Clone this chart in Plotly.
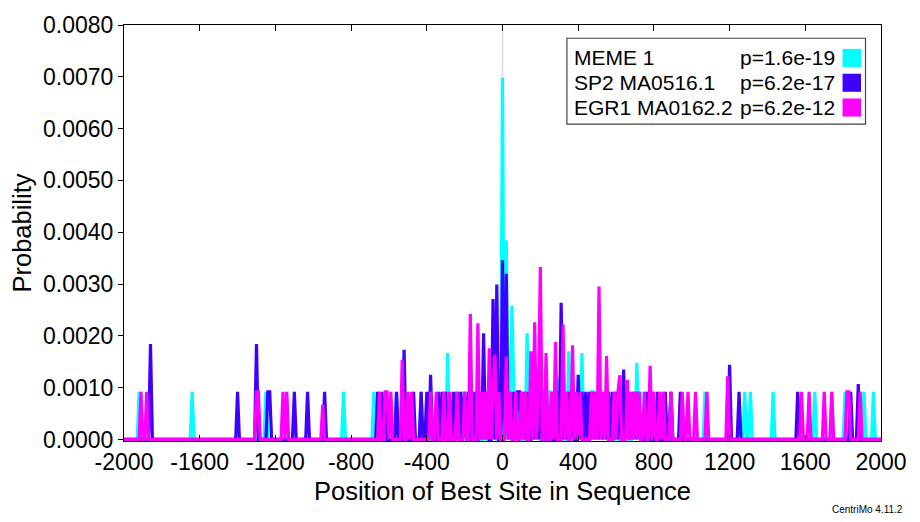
import numpy as np
import plotly.graph_objects as go

# ---- data -------------------------------------------------------------
# Position grid of the site distribution (bp relative to sequence centre)
bin_width = 10
x_min, x_max = -2000, 2000

# MEME 1: positions and probabilities of the non-zero bins
meme_pos = [-1920, -1635, -1250, -840, -675, -650, -560, -430, -380, -340,
            -310, -290, -250, -230, -200, -180, -150, -120, -90, -60, -40, 0,
            20, 35, 50, 65, 80, 100, 128, 150, 170, 190, 215, 240, 254, 275,
            300, 320, 347, 370, 395, 425, 453, 470, 480, 505, 520, 540, 560,
            600, 640, 660, 690, 711, 730, 760, 790, 840, 888, 1072, 1285, 1310,
            1433, 1653, 1742, 1810, 1913, 1960]
meme_prob = [0.00092, 0.00092, 0.00092, 0.00092, 0.00092, 0.00092, 0.00092,
             0.00092, 0.00092, 0.00092, 0.00092, 0.00167, 0.00092, 0.00092,
             0.00092, 0.00092, 0.00092, 0.00092, 0.00092, 0.00140, 0.00092,
             0.00698, 0.00384, 0.00092, 0.00258, 0.00092, 0.00092, 0.00092,
             0.00205, 0.00092, 0.00092, 0.00092, 0.00092, 0.00092, 0.00092,
             0.00092, 0.00120, 0.00092, 0.00170, 0.00092, 0.00092, 0.00167,
             0.00092, 0.00092, 0.00092, 0.00092, 0.00092, 0.00092, 0.00092,
             0.00092, 0.00092, 0.00092, 0.00092, 0.00148, 0.00092, 0.00092,
             0.00092, 0.00092, 0.00092, 0.00092, 0.00092, 0.00092, 0.00092,
             0.00092, 0.00092, 0.00092, 0.00092, 0.00092]

# SP2 MA0516.1
sp2_pos = [-1862, -1395, -1297, -1240, -1230, -1105, -1030, -937, -655, -640,
           -620, -555, -520, -470, -430, -405, -379, -345, -318, -300, -265,
           -255, -240, -221, -200, -180, -150, -125, -98, -75, -54, -27, -5,
           22, 40, 60, 75, 90, 110, 130, 160, 180, 200, 230, 265, 290, 312,
           330, 350, 370, 400, 420, 440, 460, 475, 500, 520, 540, 560, 580,
           600, 620, 638, 660, 680, 700, 720, 760, 790, 822, 860, 893, 940,
           1204, 1248, 1556, 1843, 1881]
sp2_prob = [0.00184, 0.00092, 0.00184, 0.00092, 0.00092, 0.00092, 0.00092,
            0.00092, 0.00092, 0.00092, 0.00092, 0.00092, 0.00173, 0.00092,
            0.00092, 0.00092, 0.00125, 0.00092, 0.00092, 0.00092, 0.00092,
            0.00092, 0.00092, 0.00092, 0.00092, 0.00092, 0.00092, 0.00092,
            0.00205, 0.00092, 0.00271, 0.00299, 0.00346, 0.00320, 0.00092,
            0.00092, 0.00092, 0.00092, 0.00092, 0.00092, 0.00092, 0.00092,
            0.00092, 0.00092, 0.00092, 0.00092, 0.00264, 0.00092, 0.00092,
            0.00092, 0.00125, 0.00092, 0.00092, 0.00092, 0.00092, 0.00092,
            0.00092, 0.00092, 0.00092, 0.00092, 0.00092, 0.00092, 0.00135,
            0.00092, 0.00092, 0.00092, 0.00092, 0.00092, 0.00092, 0.00092,
            0.00092, 0.00092, 0.00092, 0.00144, 0.00092, 0.00092, 0.00092,
            0.00107]

# EGR1 MA0162.2
egr1_pos = [-1909, -1880, -1305, -1290, -1155, -1140, -951, -648, -620, -608,
            -590, -530, -502, -476, -379, -353, -309, -280, -240, -200, -168,
            -133, -110, -90, -71, -50, -36, -15, 17, 40, 70, 96, 120, 149,
            172, 190, 202, 231, 255, 277, 316, 340, 372, 390, 410, 470, 490,
            506, 527, 553, 588, 606, 624, 664, 685, 700, 720, 747, 777, 800,
            826, 850, 893, 954, 984, 1020, 1078, 1192, 1582, 1620, 1697, 1745,
            1816, 1829, 1890]
egr1_prob = [0.00092, 0.00092, 0.00092, 0.00092, 0.00092, 0.00092, 0.00067,
             0.00092, 0.00092, 0.00092, 0.00092, 0.00154, 0.00092, 0.00092,
             0.00092, 0.00092, 0.00092, 0.00092, 0.00092, 0.00092, 0.00242,
             0.00224, 0.00092, 0.00092, 0.00176, 0.00092, 0.00164, 0.00092,
             0.00160, 0.00092, 0.00092, 0.00092, 0.00092, 0.00170, 0.00226,
             0.00092, 0.00333, 0.00167, 0.00092, 0.00188, 0.00222, 0.00092,
             0.00182, 0.00092, 0.00092, 0.00092, 0.00092, 0.00295, 0.00092,
             0.00161, 0.00092, 0.00092, 0.00124, 0.00115, 0.00092, 0.00092,
             0.00092, 0.00092, 0.00142, 0.00092, 0.00092, 0.00092, 0.00092,
             0.00092, 0.00092, 0.00092, 0.00092, 0.00122, 0.00092, 0.00092,
             0.00092, 0.00092, 0.00092, 0.00092, 0.00092]

series_names = ["MEME 1", "SP2 MA0516.1", "EGR1 MA0162.2"]
series_pvalues = ["p=1.6e-19", "p=6.2e-17", "p=6.2e-12"]
series_colors = ["#00FFFF", "#4000FF", "#FF00FF"]

x_tick_values = [-2000, -1600, -1200, -800, -400, 0, 400, 800, 1200, 1600, 2000]
x_tick_labels = ["-2000", "-1600", "-1200", "-800", "-400", "0", "400",
                 "800", "1200", "1600", "2000"]


def distribution(pos, prob):
    """Expand sparse (position, probability) pairs onto the full bin grid."""
    grid = np.arange(x_min, x_max + bin_width, bin_width)
    values = np.zeros(len(grid))
    for p, v in zip(pos, prob):
        idx = int(round((p - x_min) / bin_width))
        values[idx] = max(values[idx], v)
    return grid, values


# ---- figure -----------------------------------------------------------
W, H = 920, 522
L, R, T, B = 123.5, 38.5, 18, 80.5
plot_w = W - L - R
plot_h = H - T - B


def px_x(px):
    return (px - L) / plot_w


def px_y(py):
    return (H - B - py) / plot_h


fig = go.Figure()

# light grey marker of the sequence centre
fig.add_shape(type="line", xref="x", yref="paper", x0=0, x1=0, y0=0, y1=1,
              line=dict(color="#dcdcdc", width=1.5), layer="below")

for pos, prob, name, color in zip([meme_pos, sp2_pos, egr1_pos],
                                  [meme_prob, sp2_prob, egr1_prob],
                                  series_names, series_colors):
    gx, gy = distribution(pos, prob)
    fig.add_trace(go.Scatter(x=gx, y=gy, mode="lines", name=name,
                             line=dict(color=color, width=3.2),
                             showlegend=False))

# legend box with names, p-values and colour swatches
box_left, box_right, box_top, box_bottom = 567, 866, 31.5, 119
fig.add_shape(type="rect", xref="paper", yref="paper",
              x0=px_x(box_left), x1=px_x(box_right),
              y0=px_y(box_bottom), y1=px_y(box_top),
              line=dict(color="#444444", width=1.2), fillcolor="white")
row_centres = [51.5, 76.8, 102.0]
for name, pval, color, cy in zip(series_names, series_pvalues, series_colors,
                                 row_centres):
    fig.add_annotation(xref="paper", yref="paper", x=px_x(572), y=px_y(cy),
                       text=name, showarrow=False, xanchor="left",
                       yanchor="middle",
                       font=dict(family="Liberation Sans", size=21,
                                 color="black"))
    fig.add_annotation(xref="paper", yref="paper", x=px_x(837.5), y=px_y(cy),
                       text=pval, showarrow=False, xanchor="right",
                       yanchor="middle",
                       font=dict(family="Liberation Sans", size=21,
                                 color="black"))
    fig.add_shape(type="rect", xref="paper", yref="paper",
                  x0=px_x(843), x1=px_x(861.5),
                  y0=px_y(cy + 9.2), y1=px_y(cy - 9.2),
                  line=dict(width=0), fillcolor=color)

fig.add_annotation(xref="paper", yref="paper", x=px_x(906), y=px_y(511),
                   text="CentriMo 4.11.2", showarrow=False, xanchor="right",
                   yanchor="middle",
                   font=dict(family="Liberation Sans", size=10, color="black"))

fig.update_layout(
    width=W, height=H,
    margin=dict(l=L, r=R, t=T, b=B, pad=0),
    paper_bgcolor="white", plot_bgcolor="white",
    font=dict(family="Liberation Sans", color="black"),
    showlegend=False,
)

fig.update_xaxes(
    range=[x_min, x_max], tickmode="array",
    tickvals=x_tick_values, ticktext=x_tick_labels,
    ticks="inside", ticklen=6, tickwidth=1, tickcolor="black",
    showline=True, linecolor="black", linewidth=1, mirror="allticks",
    showgrid=False, zeroline=False,
    tickfont=dict(size=23),
    title=dict(text="Position of Best Site in Sequence",
               font=dict(size=25.5), standoff=8),
)
fig.update_yaxes(
    range=[-0.00003, 0.008], tick0=0, dtick=0.001, tickformat=".4f",
    ticks="outside", ticklen=5, tickwidth=1, tickcolor="black",
    showline=True, linecolor="black", linewidth=1, mirror=True,
    showgrid=False, zeroline=False,
    tickfont=dict(size=23),
    title=dict(text="Probability", font=dict(size=25.5), standoff=4),
)

fig.write_html("out.html")
